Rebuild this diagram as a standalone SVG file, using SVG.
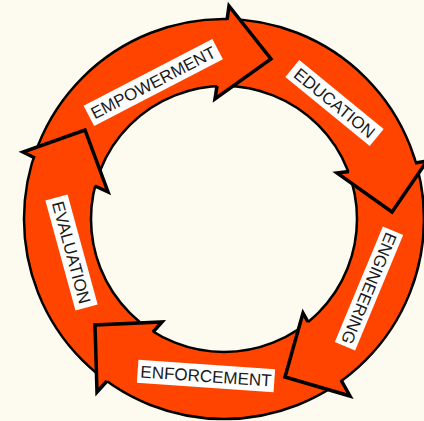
<svg xmlns="http://www.w3.org/2000/svg" width="424" height="421" viewBox="0 0 424 421">
<style>
.bg{fill:#FDFBEF}
.ring{fill:#FF4400;stroke:#000;stroke-width:2.5;fill-rule:evenodd}
.head{fill:#FF4400;stroke:none}
.edge{fill:none;stroke:#000;stroke-width:3.5;stroke-linejoin:miter;stroke-miterlimit:10}
.box{fill:#fff}
.lbl{font-family:"Liberation Sans",Arial,sans-serif;font-size:17px;fill:#1a1a1a;text-anchor:middle}
</style>
<rect class="bg" width="424" height="421"/>
<g id="connectors">
<path class="ring" d="M424,219 A200,200 0 1,1 24,219 A200,200 0 1,1 424,219 Z M357,219 A133,133 0 1,0 91,219 A133,133 0 1,0 357,219 Z"/>
</g>
<g id="empowerment">
<polygon class="head" points="229,6 271,59 215,99"/>
<polyline class="edge" points="227,20 229,6 271,59 215,99 217,86"/>
<g transform="translate(153.25,82.5) rotate(-27.4)">
<rect class="box" x="-72.5" y="-11.5" width="145" height="23"/>
<text class="lbl" x="0" y="6">EMPOWERMENT</text>
</g>
</g>
<g id="education">
<polygon class="head" points="427,161 392,212 337,173"/>
<polyline class="edge" points="415,163 427,161 392,212 337,173 349,171.5"/>
<g transform="translate(334.5,103) rotate(39.3)">
<rect class="box" x="-54.5" y="-11" width="109" height="22"/>
<text class="lbl" x="0" y="6">EDUCATION</text>
</g>
</g>
<g id="engineering">
<polygon class="head" points="350,396 285,377 303,313"/>
<polyline class="edge" points="341,380 350,396 285,377 303,313 308,322"/>
<g transform="translate(369,288.5) rotate(112.6)">
<rect class="box" x="-62.5" y="-11" width="125" height="22"/>
<text class="lbl" x="0" y="6">ENGINEERING</text>
</g>
</g>
<g id="enforcement">
<polygon class="head" points="97,392 95,325 162,322"/>
<polyline class="edge" points="107,381 97,392 95,325 162,322 153,332"/>
<g transform="translate(206,376) rotate(4)">
<rect class="box" x="-68.5" y="-11.5" width="137" height="23"/>
<text class="lbl" x="0" y="6">ENFORCEMENT</text>
</g>
</g>
<g id="evaluation">
<polygon class="head" points="23,152 85,130 108,192"/>
<polyline class="edge" points="35,158 23,152 85,130 108,192 95,186"/>
<g transform="translate(71.5,252.5) rotate(74.7)">
<rect class="box" x="-57" y="-11.5" width="114" height="23"/>
<text class="lbl" x="0" y="6">EVALUATION</text>
</g>
</g>
</svg>
